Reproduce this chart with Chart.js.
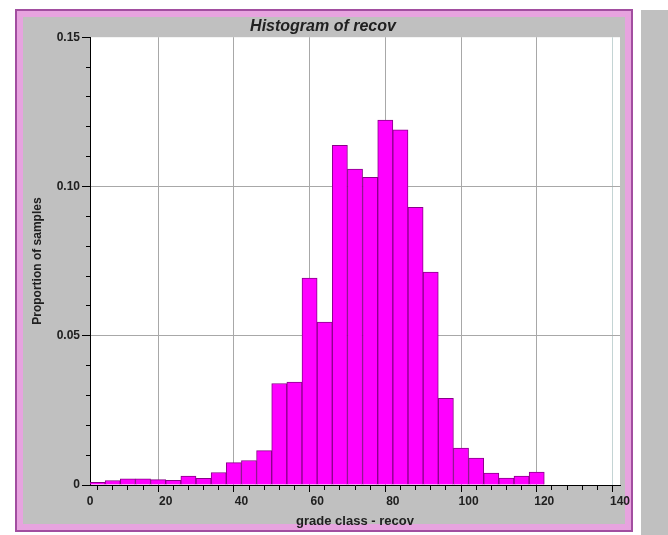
<!DOCTYPE html>
<html lang="en">

<head>
    <meta charset="UTF-8">
    <title>Histogram of recov</title>
    <script src="https://cdn.jsdelivr.net/npm/chart.js"></script>
    <style>
        body { margin: 0; background: #fff; width: 668px; height: 535px; overflow: hidden; }
        #frame {
            position: absolute; left: 15px; top: 9px; width: 614px; height: 519px;
            border: 2px solid #a24ea0; background: #c0c0c0;
            box-shadow: inset 0 0 0 6px #e7a3df;
        }
        #side { position: absolute; left: 641px; top: 10px; width: 27px; height: 525px; background: #c0c0c0; }
        #myChart { position: absolute; left: 0; top: 0; }
    </style>
</head>

<body>
    <div id="frame"></div>
    <div id="side"></div>
    <canvas id="myChart" width="668" height="535"></canvas>
    <script>
        // lower edge of each 4-unit grade class
        const binStart = [0, 4, 8, 12, 16, 20, 24, 28, 32, 36, 40, 44, 48, 52, 56,
            60, 64, 68, 72, 76, 80, 84, 88, 92, 96, 100, 104, 108, 112, 116];
        const binWidth = 4;
        // proportion of samples per class
        const proportion = [0.0009, 0.0015, 0.0021, 0.0021, 0.0018, 0.0016, 0.0030, 0.0022, 0.0042, 0.0075,
            0.0082, 0.0115, 0.0340, 0.0345, 0.0693, 0.0546, 0.1138, 0.1058, 0.1031, 0.1222,
            0.1190, 0.0930, 0.0713, 0.0290, 0.0124, 0.0090, 0.0040, 0.0023, 0.0030, 0.0043];

        const xMajor = [0, 20, 40, 60, 80, 100, 120, 140];
        const yMajor = [0, 0.05, 0.10, 0.15];
        const yMajorText = ['0', '0.05', '0.10', '0.15'];

        const fontFam = "'Liberation Sans', Arial, sans-serif";
        const none = 'rgba(0,0,0,0)';

        function yIndex(v) {
            return yMajor.findIndex(m => Math.abs(m - v) < 1e-9);
        }

        const plotBg = {
            id: 'plotBg',
            beforeDraw(chart) {
                const a = chart.chartArea;
                const c = chart.ctx;
                c.save();
                c.fillStyle = '#ffffff';
                c.fillRect(a.left, a.top, a.right - a.left, a.bottom - a.top);
                c.restore();
            }
        };

        let ctx = document.getElementById('myChart');
        let configs = {
            type: 'bar',
            data: {
                datasets: [{
                    label: 'recov',
                    data: binStart.map((s, i) => ({ x: s + binWidth / 2, y: proportion[i] })),
                    backgroundColor: '#ff00ff',
                    borderColor: '#8a008a',
                    borderWidth: 1,
                    barPercentage: 1,
                    categoryPercentage: 1
                }]
            },
            options: {
                responsive: false,
                animation: false,
                layout: { padding: { left: 26, right: 48, top: 9, bottom: 5 } },
                plugins: {
                    legend: { display: false },
                    tooltip: { enabled: false },
                    title: {
                        display: true,
                        text: 'Histogram of recov',
                        color: '#202020',
                        font: { family: fontFam, size: 16, weight: 'bold', style: 'italic' },
                        padding: { top: 8, bottom: 1 }
                    }
                },
                scales: {
                    x: {
                        type: 'linear',
                        offset: false,
                        min: 0,
                        max: 140,
                        afterFit: s => { s.height = 45; },
                        border: { color: '#000', width: 1 },
                        grid: {
                            tickLength: 7,
                            color: c => {
                                if (!c.tick) return none;
                                const v = c.tick.value;
                                if (v === 0) return none;
                                if (v === 140) return '#c4d4d4';
                                return xMajor.includes(v) ? '#a8a8a8' : none;
                            },
                            tickColor: '#000',
                            tickBorderDash: c => (!c.tick || xMajor.includes(c.tick.value)) ? [] : [4, 100]
                        },
                        ticks: {
                            stepSize: 4,
                            autoSkip: false,
                            maxRotation: 0,
                            padding: 2,
                            color: '#202020',
                            font: { family: fontFam, size: 12, weight: 'bold' },
                            callback: v => xMajor.includes(v) ? String(v) : ''
                        },
                        title: {
                            display: true,
                            text: 'grade class - recov',
                            color: '#202020',
                            font: { family: fontFam, size: 13, weight: 'bold' },
                            padding: { top: 0, bottom: 1 }
                        }
                    },
                    y: {
                        min: 0,
                        max: 0.15,
                        afterFit: s => { s.width = 64; },
                        border: { color: '#000', width: 1 },
                        grid: {
                            tickLength: 8,
                            color: c => {
                                if (!c.tick) return none;
                                const i = yIndex(c.tick.value);
                                return (i === 1 || i === 2) ? '#a8a8a8' : none;
                            },
                            tickColor: '#000',
                            tickBorderDash: c => (!c.tick || yIndex(c.tick.value) >= 0) ? [] : [0, 4, 4, 100]
                        },
                        ticks: {
                            stepSize: 0.01,
                            autoSkip: false,
                            padding: 2,
                            color: '#202020',
                            font: { family: fontFam, size: 12, weight: 'bold' },
                            callback: v => {
                                const i = yIndex(v);
                                return i >= 0 ? yMajorText[i] : '';
                            }
                        },
                        title: {
                            display: true,
                            text: 'Proportion of samples',
                            color: '#202020',
                            font: { family: fontFam, size: 12, weight: 'bold' }
                        }
                    }
                }
            },
            plugins: [plotBg]
        };
        let myChart = new Chart(ctx, configs);
    </script>
</body>

</html>
